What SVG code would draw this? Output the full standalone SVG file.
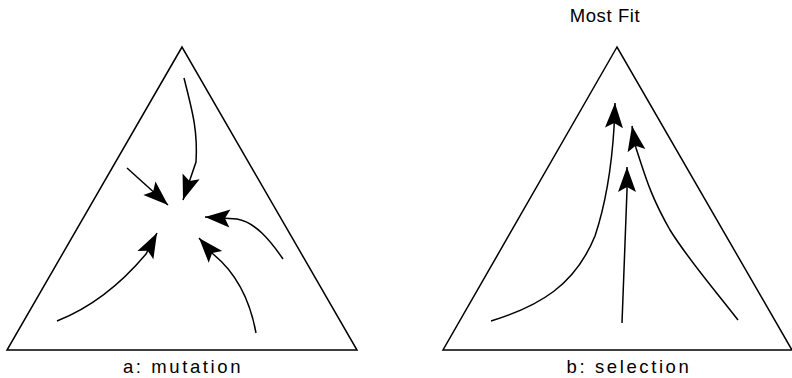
<svg xmlns="http://www.w3.org/2000/svg" width="792" height="378" viewBox="0 0 792 378">
<style>
.tri{fill:none;stroke:#000;stroke-width:1.5;stroke-linejoin:miter}
.arr{fill:none;stroke:#000;stroke-width:1.5;marker-end:url(#head)}
.lbl{font-family:"Liberation Sans",Arial,sans-serif;font-size:18.5px;fill:#000;text-anchor:middle;letter-spacing:2.6px}
.top{letter-spacing:0.6px}
</style>
<defs>
<marker id="head" markerUnits="userSpaceOnUse" markerWidth="30" markerHeight="24" refX="0" refY="0" viewBox="-27 -12 30 24" orient="auto" overflow="visible">
<path d="M0,0 L-25,-9 L-20,0 L-25,9 Z" fill="#000"/>
</marker>
</defs>
<rect width="792" height="378" fill="#fff"/>
<g id="triangle-a">
<polygon class="tri" points="182,47 7,350 357,350"/>
<text class="lbl" x="183" y="373">a: mutation</text>
</g>
<g id="triangle-b">
<polygon class="tri" points="617,47 443,350 792,350"/>
<text class="lbl" x="629" y="373">b: selection</text>
<text class="lbl top" x="605" y="22">Most Fit</text>
</g>
<g id="connectors">
<path class="arr" d="M184,78 C192,110 198,130 196,162 L183,200"/>
<path class="arr" d="M127,168 L168,205"/>
<path class="arr" d="M283,259 C270,240 255,222 237,219 L205,217"/>
<path class="arr" d="M256,333 C250,300 235,272 213,254 L199,238"/>
<path class="arr" d="M57,321 C90,308 120,285 146,254 L157,233"/>
<path class="arr" d="M491,321 C540,306 575,285 595,236 C607,200 612,160 614,128 L615,103"/>
<path class="arr" d="M622,323 L627,190 L627,167"/>
<path class="arr" d="M738,320 C715,290 690,262 670,230 C650,195 645,175 636,148 L632,126"/>
</g>
</svg>
